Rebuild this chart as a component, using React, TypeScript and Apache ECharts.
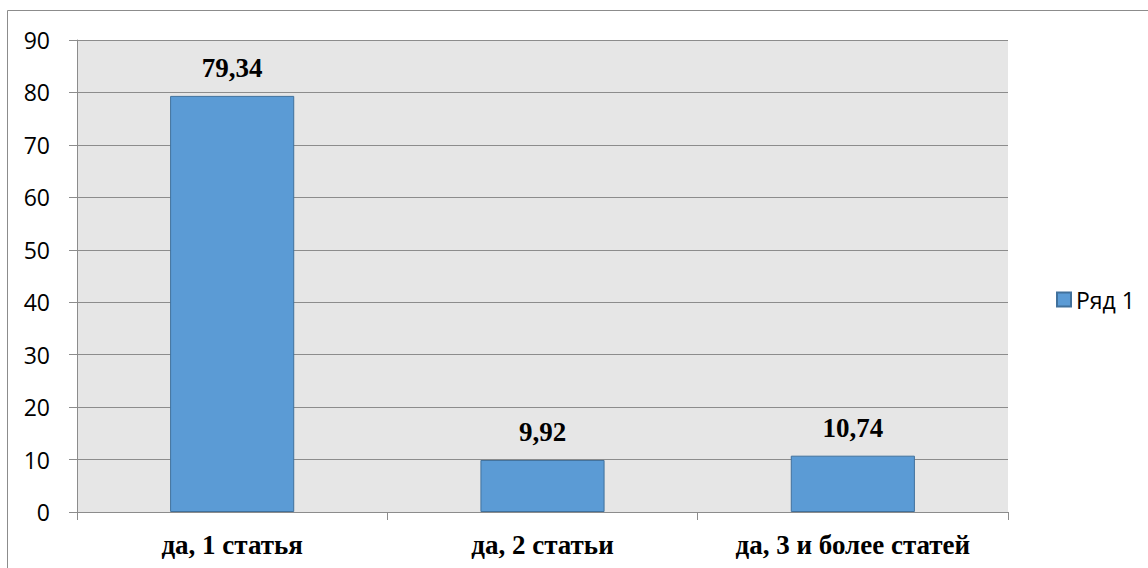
import React, { useEffect, useRef } from "react";
import * as echarts from "echarts";

const categories = ["да, 1 статья", "да, 2 статьи", "да, 3 и более статей"];
const seriesName = "Ряд 1";
const values = [79.34, 9.92, 10.74];
const yMin = 0;
const yMax = 90;
const yInterval = 10;

export default function App() {
  const ref = useRef<HTMLDivElement>(null);
  useEffect(() => {
    if (!ref.current) return;
    const chart = echarts.init(ref.current, null, { renderer: "svg" });
    chart.setOption({
      animation: false,
      backgroundColor: "#ffffff",
      graphic: [
        {
          type: "rect",
          shape: { x: 7.5, y: 10.5, width: 1150, height: 580 },
          style: { fill: "none", stroke: "#8c8c8c", lineWidth: 1 },
          silent: true,
        },
      ],
      grid: {
        left: 77,
        top: 40,
        right: 140,
        bottom: 56,
        show: true,
        backgroundColor: "#e6e6e6",
        borderWidth: 0,
      },
      legend: {
        data: [seriesName],
        left: 1051,
        top: 283,
        itemWidth: 14,
        itemHeight: 14,
        itemGap: 6,
        icon: "rect",
        textStyle: { fontFamily: "Open Sans", fontSize: 23, color: "#000" },
      },
      xAxis: {
        type: "category",
        data: categories,
        axisLine: { show: true, lineStyle: { color: "#8c8c8c", width: 1 } },
        axisTick: { show: true, length: 8, alignWithLabel: false, lineStyle: { color: "#8c8c8c" } },
        axisLabel: {
          fontFamily: "Liberation Serif",
          fontWeight: "bold",
          fontSize: 27,
          color: "#000",
          margin: 19,
          interval: 0,
        },
        splitLine: { show: false },
      },
      yAxis: {
        type: "value",
        min: yMin,
        max: yMax,
        interval: yInterval,
        axisLine: { show: true, lineStyle: { color: "#8c8c8c", width: 1 } },
        axisTick: { show: true, length: 8, lineStyle: { color: "#8c8c8c" } },
        axisLabel: {
          fontFamily: "Open Sans",
          fontSize: 23,
          color: "#000",
          margin: 27,
        },
        splitLine: { show: true, lineStyle: { color: "#8c8c8c", width: 1 } },
      },
      series: [
        {
          name: seriesName,
          type: "bar",
          data: values,
          barWidth: "40%",
          itemStyle: { color: "#5b9bd5", borderColor: "#41719c", borderWidth: 1 },
          label: {
            show: true,
            position: "top",
            distance: 14,
            fontFamily: "Liberation Serif",
            fontWeight: "bold",
            fontSize: 27,
            color: "#000",
            formatter: (p: any) => String(p.value).replace(".", ","),
          },
        },
      ],
    });
    return () => chart.dispose();
  }, []);
  return (
    <div
      ref={ref}
      style={{ position: "fixed", left: 0, top: 0, width: 1148, height: 568 }}
    />
  );
}
